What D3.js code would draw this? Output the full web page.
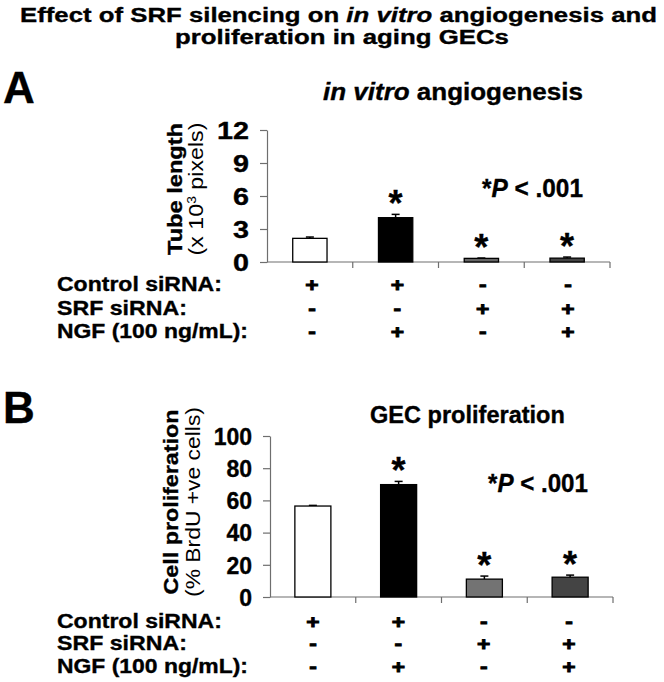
<!DOCTYPE html>
<html>
<head>
<meta charset="utf-8">
<script src="https://cdn.jsdelivr.net/npm/d3@7"></script>
<style>
  html, body { margin: 0; padding: 0; background: #ffffff; }
  svg { display: block; }
  text { font-family: "Liberation Sans", Arial, Helvetica, sans-serif; fill: #000; }
  text.heavy { stroke: #000; stroke-width: 0.35px; }
  text.sign { stroke: #000; stroke-width: 0.9px; }
</style>
</head>
<body>
<svg id="chart" width="664" height="682"></svg>
<script>
// ---------------- data ----------------
const categories = ["Control siRNA", "Control siRNA + NGF", "SRF siRNA", "SRF siRNA + NGF"];
const tubeLength = [2.15, 4.03, 0.33, 0.35];        // x 10^3 pixels
const tubeLengthErr = [0.12, 0.30, 0.03, 0.10];
const proliferation = [56.5, 69.8, 11.1, 12.3];     // % BrdU +ve cells
const proliferationErr = [0.4, 2.0, 1.9, 1.3];
const significant = [false, true, true, true];
const barColorsA = ["#ffffff", "#000000", "#666666", "#444444"];
const barColorsB = ["#ffffff", "#000000", "#737373", "#444444"];
const tickValuesA = [0, 3, 6, 9, 12];
const tickValuesB = [0, 20, 40, 60, 80, 100];
const treatmentRows = ["Control siRNA:", "SRF siRNA:", "NGF (100 ng/mL):"];
const treatmentSigns = [
  ["+", "+", "-", "-"],
  ["-", "-", "+", "+"],
  ["-", "+", "-", "+"]
];

// ---------------- helpers ----------------
const svg = d3.select("#chart");

function fitText(parent, o) {
  const t = parent.append("text")
    .attr("class", (o.weight === "normal") ? null : "heavy")
    .attr("text-anchor", o.anchor || "start")
    .style("font-size", o.size + "px")
    .style("font-weight", o.weight || "bold");
  o.parts.forEach(p => {
    const s = t.append("tspan").text(p.t);
    if (p.italic) s.style("font-style", "italic");
    if (p.sup) s.attr("class", "sup");
    if (p.after) s.attr("class", "aftersup");
  });
  let tr = `translate(${o.x},${o.y})`;
  if (o.rotate) tr += ` rotate(${o.rotate})`;
  t.attr("transform", tr);
  if (o.width) {
    t.selectAll("tspan.sup").style("font-size", "12px").attr("dy", "-7");
    t.selectAll("tspan.aftersup").attr("dy", "7");
    const len = t.node().getComputedTextLength();
    t.attr("transform", tr + ` scale(${o.width / len},1)`);
  }
  return t;
}

// ---------------- title ----------------
fitText(svg, { x: 338.5, y: 22, size: 21, anchor: "middle", width: 637,
  parts: [{ t: "Effect of SRF silencing on " }, { t: "in vitro", italic: true }, { t: " angiogenesis and" }] });
fitText(svg, { x: 342, y: 44, size: 21, anchor: "middle", width: 334,
  parts: [{ t: "proliferation in aging GECs" }] });

// ---------------- panel drawing ----------------
function drawPanel(cfg) {
  const g = svg.append("g");
  const x = d3.scaleBand().domain(categories).range(cfg.xRange).padding(0);
  const y = d3.scaleLinear().domain(cfg.yDomain).range(cfg.yRange);
  const bw = x.bandwidth() * cfg.barFrac;

  fitText(g, { x: 3, y: cfg.letterY, size: 44, parts: [{ t: cfg.letter }] });

  fitText(g, { x: cfg.subX, y: cfg.subY, size: 23, anchor: "start", width: cfg.subW, parts: cfg.subParts });

  // y axis
  const yAxis = d3.axisLeft(y).tickValues(cfg.ticks).tickSize(7).tickSizeOuter(0).tickPadding(11);
  const ya = g.append("g").attr("transform", `translate(${cfg.xRange[0]},0)`).call(yAxis);
  ya.select(".domain").attr("stroke", "#6e6e6e").attr("stroke-width", 1.2);
  ya.selectAll(".tick line").attr("stroke", "#6e6e6e").attr("stroke-width", 1.2);
  ya.selectAll(".tick text")
    .attr("font-family", null)
    .attr("font-size", null)
    .attr("class", "heavy")
    .style("font-size", "23px").style("font-weight", "bold")
    .attr("dy", "0.36em")
    .each(function () {
      if (cfg.tickStretch && cfg.tickStretch !== 1) {
        const el = d3.select(this);
        const xx = +el.attr("x");
        el.attr("transform", `translate(${xx},0) scale(${cfg.tickStretch},1)`).attr("x", 0);
      }
    });

  // x axis: baseline and category separators
  const y0 = y(0);
  g.append("line").attr("x1", cfg.xRange[0]).attr("x2", cfg.xRange[1])
    .attr("y1", y0).attr("y2", y0).attr("stroke", "#6e6e6e").attr("stroke-width", 1.2);
  g.selectAll(".xsep").data(categories).join("line")
    .attr("x1", d => x(d) + x.bandwidth()).attr("x2", d => x(d) + x.bandwidth())
    .attr("y1", y0).attr("y2", y0 + 6).attr("stroke", "#6e6e6e").attr("stroke-width", 1.2);

  // y-axis title
  fitText(g, { x: cfg.yt1X, y: cfg.ytCY, size: 21, rotate: -90, anchor: "middle", width: cfg.yt1W,
    parts: [{ t: cfg.yTitle1 }] });
  fitText(g, { x: cfg.yt2X, y: cfg.ytCY, size: 20, rotate: -90, anchor: "middle", width: cfg.yt2W,
    weight: "normal", parts: cfg.yTitle2Parts });

  const rows = categories.map((c, i) => ({ c, v: cfg.values[i], e: cfg.errors[i], col: cfg.colors[i], s: significant[i] }));

  // error bars (upper only)
  g.selectAll(".err").data(rows).join("line")
    .attr("x1", d => x(d.c) + x.bandwidth() / 2).attr("x2", d => x(d.c) + x.bandwidth() / 2)
    .attr("y1", d => y(d.v)).attr("y2", d => y(d.v + d.e))
    .attr("stroke", "#000").attr("stroke-width", 1.5);
  g.selectAll(".cap").data(rows).join("line")
    .attr("x1", d => x(d.c) + x.bandwidth() / 2 - 4).attr("x2", d => x(d.c) + x.bandwidth() / 2 + 4)
    .attr("y1", d => y(d.v + d.e)).attr("y2", d => y(d.v + d.e))
    .attr("stroke", "#000").attr("stroke-width", 1.5);

  // bars
  g.selectAll(".bar").data(rows).join("rect")
    .attr("x", d => x(d.c) + (x.bandwidth() - bw) / 2)
    .attr("width", bw)
    .attr("y", d => y(d.v))
    .attr("height", d => y0 - y(d.v))
    .attr("fill", d => d.col)
    .attr("stroke", "#000").attr("stroke-width", 1.3);

  // significance asterisks
  g.selectAll(".star").data(rows.filter(d => d.s)).join("text")
    .attr("class", "heavy")
    .attr("x", d => x(d.c) + x.bandwidth() / 2)
    .attr("y", d => y(d.v + d.e) + 2)
    .attr("text-anchor", "middle")
    .style("font-size", "36px").style("font-weight", "bold")
    .text("*");

  // P-value note
  fitText(g, { x: cfg.pX, y: cfg.pY, size: 25, width: cfg.pW,
    parts: [{ t: "*" }, { t: "P", italic: true }, { t: " < .001" }] });

  // treatment table
  treatmentRows.forEach((label, r) => {
    fitText(g, { x: 57, y: cfg.rowY[r], size: 20, width: cfg.rowW[r], parts: [{ t: label }] });
  });
  const sx = d3.scalePoint().domain(categories).range(cfg.signRange);
  treatmentSigns.forEach((signs, r) => {
    g.selectAll(".sign" + r).data(categories).join("text")
      .attr("class", "sign")
      .attr("transform", d => `translate(${sx(d)},${cfg.rowY[r]}) scale(1.2,1)`)
      .attr("text-anchor", "middle")
      .style("font-size", "19px").style("font-weight", "bold")
      .text((d, i) => signs[i]);
  });
}

drawPanel({
  letter: "A", letterY: 103,
  subX: 323, subY: 100, subW: 260,
  subParts: [{ t: "in vitro", italic: true }, { t: " angiogenesis" }],
  xRange: [267, 610], yRange: [262, 130], yDomain: [0, 12], ticks: tickValuesA,
  tickStretch: 1.25,
  barFrac: 0.4,
  values: tubeLength, errors: tubeLengthErr, colors: barColorsA,
  yTitle1: "Tube length", yt1X: 182, yt1W: 132,
  yTitle2Parts: [{ t: "(x 10" }, { t: "3", sup: true }, { t: " pixels)", after: true }], yt2X: 203, yt2W: 133,
  ytCY: 189,
  pX: 482, pY: 197, pW: 101,
  rowY: [291, 315, 338], rowW: [165, 130, 191],
  signRange: [312, 568]
});

drawPanel({
  letter: "B", letterY: 423,
  subX: 370, subY: 423, subW: 195,
  subParts: [{ t: "GEC proliferation" }],
  xRange: [270, 613], yRange: [597, 436], yDomain: [0, 100], ticks: tickValuesB,
  tickStretch: 1,
  barFrac: 0.42,
  values: proliferation, errors: proliferationErr, colors: barColorsB,
  yTitle1: "Cell proliferation", yt1X: 178, yt1W: 185,
  yTitle2Parts: [{ t: "(% BrdU +ve cells)" }], yt2X: 200, yt2W: 190,
  ytCY: 502,
  pX: 488, pY: 492, pW: 100,
  rowY: [628, 650, 673], rowW: [165, 130, 191],
  signRange: [313, 569]
});
</script>
</body>
</html>
